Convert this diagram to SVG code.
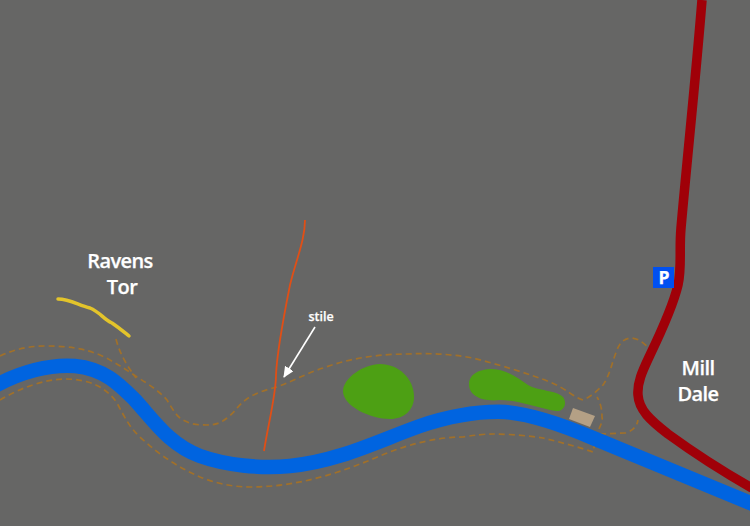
<svg xmlns="http://www.w3.org/2000/svg" width="750" height="526" viewBox="0 0 750 526">
<style>
.lbl{font-family:"Open Sans","Noto Sans",sans-serif;font-weight:600;fill:#fff;stroke:#fff;stroke-width:.25;text-anchor:middle}
.big{font-size:20px;letter-spacing:-.6px}
.path{fill:none;stroke:#a0702a;stroke-width:1.7;stroke-dasharray:6 4}
.wood{fill:#4da014}
</style>
<defs><marker id="ah" markerUnits="userSpaceOnUse" markerWidth="12" markerHeight="12" refX="10" refY="5" orient="auto"><path d="M0 0L11 5L0 10Z" fill="#fff"/></marker></defs>
<rect width="750" height="526" fill="#666665"/>
<g id="connectors">
<path class="path" d="M0 356C15 349 30 346 45 346C70 346 85 349 100 355C115 362 125 369 137 377C150 385 160 392 167 400C173 410 177 417 183 420C192 425 200 425 207 425C217 425 222 422 227 418C235 412 238 406 243 402C252 394 265 390 277 387C295 380 310 372 323 368C350 358 380 354 407 354C430 353 450 354 473 358C500 365 530 374 550 382C565 388 575 398 583 400C592 396 598 390 603 385C610 375 612 362 617 350C620 342 625 338 632 338C640 339 644 344 648 347"/>
<path class="path" d="M0 400C20 388 45 379 65 379C90 379 107 388 117 403C125 418 130 428 140 437C160 456 180 468 200 477C215 483 232 487 250 487C290 487 330 477 375 458C405 445 435 437 463 437C475 435 485 434 493 434C510 434 530 436 543 438C560 442 578 447 593 452L597 433C601 425 603 420 602 417C602 408 600 402 597 397"/>
<path class="path" d="M116 339C120 355 128 367 136 378"/>
<path class="path" d="M600 434L625 433C633 431 637 426 638 420"/>
</g>
<g id="river"><path d="M-5 386C20 372 50 364 75 366C105 369 120 385 135 400C155 422 170 445 200 456C225 465 260 469 290 466C340 461 380 440 420 426C450 416 480 411 505 412C530 414 560 424 593 438L755 505" fill="none" stroke="#0064e0" stroke-width="14.5"/></g>
<g id="road"><path d="M702 0C696 75 687 160 681 228C679 250 682 268 678 285C674 302 662 330 650 355C643 370 637 382 638 395C639 410 650 420 668 434C690 450 720 470 752 488" fill="none" stroke="#a00008" stroke-width="9.5"/></g>
<g id="tor"><path d="M58 299C70 299 78 305 90 308C100 312 103 319 112 323C118 327 124 332 129 336" fill="none" stroke="#e3c42b" stroke-width="3.5" stroke-linecap="round"/></g>
<g id="wall"><path d="M305 220C305 240 296 260 290 285C285 310 277 350 276 375C276 395 268 425 264 451" fill="none" stroke="#e04f16" stroke-width="1.8"/></g>
<g id="wood1"><path class="wood" d="M343 391C343 378 364 364 380 364C398 364 414 378 414 397C414 410 404 419 390 419C370 419 343 406 343 391Z"/></g>
<g id="wood2"><path class="wood" d="M469 384C469 374 480 369 492 369C508 370 518 378 528 385C538 391 556 390 563 397C568 404 563 412 556 411C538 408 518 400 500 400C482 402 469 396 469 384Z"/></g>
<g id="building"><path d="M573 408L595 416L590 427L569 419Z" fill="#b4a085"/></g>
<g id="parking"><rect x="653" y="267" width="21" height="21" fill="#0050f0"/><text class="lbl" x="664" y="284" font-size="17.5" style="font-weight:700">P</text></g>
<g id="label-ravens"><text class="lbl big" x="120" y="268">Ravens</text><text class="lbl big" x="122" y="294">Tor</text></g>
<g id="label-mill"><text class="lbl big" x="698" y="375">Mill</text><text class="lbl big" x="698" y="401">Dale</text></g>
<g id="label-stile"><text class="lbl" x="321" y="321" font-size="12.5">stile</text><path d="M315 327L284 377" stroke="#fff" stroke-width="1.6" fill="none" marker-end="url(#ah)"/></g>
</svg>
